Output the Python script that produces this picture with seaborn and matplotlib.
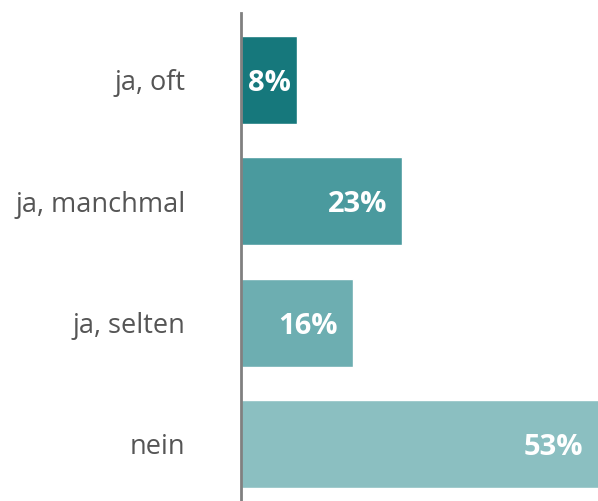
import matplotlib
matplotlib.use("Agg")
import matplotlib.pyplot as plt
import seaborn as sns
import pandas as pd

categories = ["ja, oft", "ja, manchmal", "ja, selten", "nein"]
values = [8, 23, 16, 53]
colors = ["#16787c", "#4a9a9e", "#6daeb1", "#8bbfc1"]

sns.set_style("white")
plt.rcParams['font.family'] = ['Open Sans', 'DejaVu Sans']

df = pd.DataFrame({"cat": categories, "val": values})

fig = plt.figure(figsize=(5.98, 5.01), dpi=100)
ax = fig.add_axes([241/598, 0, 1 - 241/598, 1 - 13/501])
sns.barplot(data=df, y="cat", x="val", hue="cat", palette=colors, legend=False,
            orient="h", width=0.725, ax=ax, saturation=1)
xmax = 51
ax.set_xlim(0, xmax)
ax.set_ylim(3.47, -0.55)
ax.set_xlabel("")
ax.set_ylabel("")
ax.set_xticks([])
for s in ["top", "right", "bottom"]:
    ax.spines[s].set_visible(False)
ax.spines["left"].set_color("#808080")
ax.spines["left"].set_linewidth(2)
ax.spines["left"].set_zorder(5)
ax.tick_params(axis="y", length=0, pad=40, labelsize=19.5, labelcolor="#555555")

for i, v in enumerate(values):
    if v < 12:
        ax.text(v / 2, i, f"{v}%", ha="center", va="center_baseline", color="white",
                fontsize=21, fontweight="bold")
    else:
        ax.annotate(f"{v}%", xy=(min(v, xmax), i), xytext=(-15, 0), textcoords="offset pixels",
                    ha="right", va="center_baseline", color="white", fontsize=21,
                    fontweight="bold", annotation_clip=False)

fig.savefig("out.png", dpi=100)
